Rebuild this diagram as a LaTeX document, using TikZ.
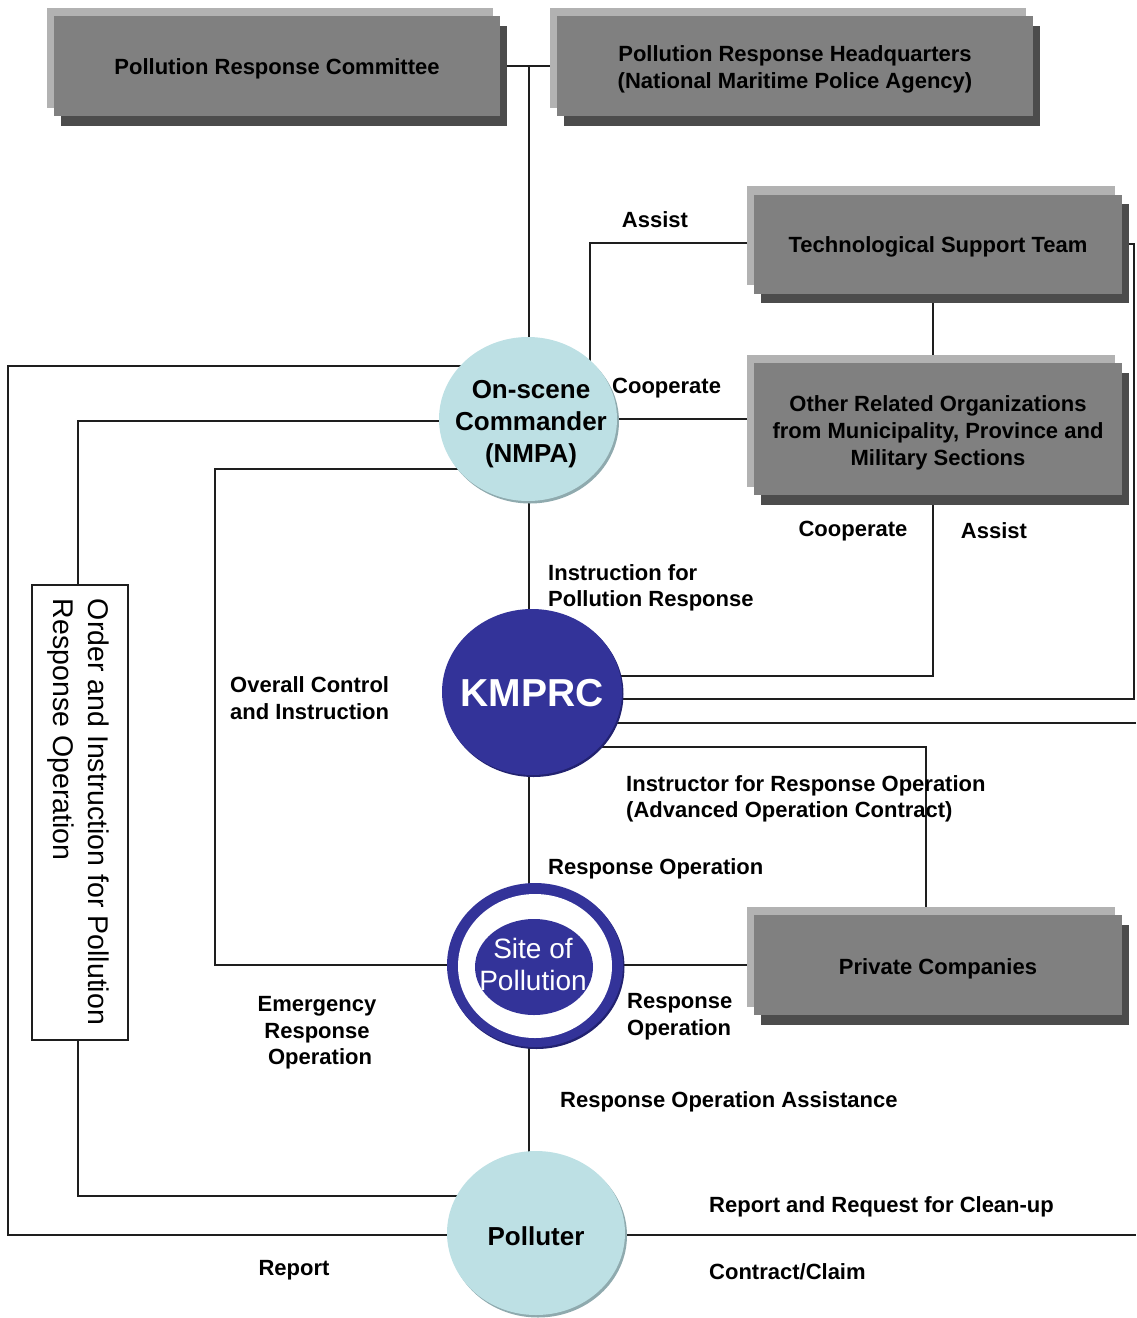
\documentclass[tikz,border=0pt]{standalone}
\usepackage{fontspec}
\setmainfont{Liberation Sans}
\usetikzlibrary{shapes.geometric,shadows}

\definecolor{panellight}{HTML}{B2B2B2}
\definecolor{panelmid}{HTML}{808080}
\definecolor{paneldark}{HTML}{4C4C4C}
\definecolor{paleteal}{HTML}{BDE0E4}
\definecolor{tealshade}{HTML}{8FAAAE}
\definecolor{navy}{HTML}{333399}
\definecolor{navyshade}{HTML}{222270}
\definecolor{wire}{HTML}{1E1E1E}

\pgfdeclarelayer{wires}
\pgfsetlayers{wires,main}

\newcommand\lblfont{\fontsize{22}{26.5}\selectfont\bfseries}
\newcommand\panelfont{\fontsize{22}{27}\selectfont\bfseries}

\begin{document}
\begin{tikzpicture}[x=1pt,y=-1pt,
  panel/.style={fill=panelmid, inner sep=0pt,
    general shadow={fill=panellight, shadow xshift=-7pt, shadow yshift=8.5pt},
    general shadow={fill=paneldark, shadow xshift=7pt, shadow yshift=-9.5pt}},
  paneltext/.style={inner sep=0pt, align=center, font=\panelfont},
  orb/.style={ellipse, inner sep=0pt},
  paleorb/.style={orb, fill=paleteal, minimum width=178pt, minimum height=164pt,
    general shadow={fill=tealshade, shadow xshift=2pt, shadow yshift=-2.5pt}},
  navyorb/.style={orb, fill=navy},
  orbtext/.style={inner sep=0pt, align=center},
  wirestyle/.style={draw=wire, line width=1.3pt},
  lbl/.style={font=\lblfont, inner sep=0pt, align=left, anchor=west},
]
\useasboundingbox (0,0) rectangle (1136,1318);

% --- grey panels ---
\node[panel, minimum width=446pt, minimum height=100pt] (prc) at (277,66) {};
\node[paneltext] (prctxt) at (277,69) {Pollution Response Committee};
\node[panel, minimum width=476pt, minimum height=100pt] (prh) at (795,66) {};
\node[paneltext] (prhtxt) at (795,69) {Pollution Response Headquarters\\(National Maritime Police Agency)};
\node[panel, minimum width=368pt, minimum height=99pt] (tst) at (938,244) {};
\node[paneltext] (tsttxt) at (938,247) {Technological Support Team};
\node[panel, minimum width=368pt, minimum height=132pt] (oro) at (938,429) {};
\node[paneltext] (orotxt) at (938,432.5) {Other Related Organizations\\from Municipality, Province and\\Military Sections};
\node[panel, minimum width=368pt, minimum height=100pt] (pc) at (938,965) {};
\node[paneltext] (pctxt) at (938,969) {Private Companies};

% --- round nodes ---
\node[paleorb] (cmd) at (528,419) {};
\node[orbtext, font=\fontsize{26}{32}\selectfont\bfseries] (cmdtxt) at (531,424) {On-scene\\Commander\\(NMPA)};

\node[navyorb, minimum width=180pt, minimum height=166pt,
  general shadow={fill=navyshade, shadow xshift=1.5pt, shadow yshift=-2pt}] (kmp) at (532,692) {};
\node[orbtext, text=white, font=\fontsize{39}{44}\selectfont\bfseries] (kmptxt) at (532,693) {KMPRC};

\node[navyorb, minimum width=176pt, minimum height=164pt,
  general shadow={fill=navyshade, shadow xshift=1.5pt, shadow yshift=-2pt}] (site) at (535,965) {};
\node[orb, fill=white, minimum width=154pt, minimum height=144pt] (sitering) at (535,966) {};
\node[navyorb, minimum width=118pt, minimum height=96pt] (sitecore) at (534,967) {};
\node[orbtext, text=white, font=\fontsize{28}{32}\selectfont] (sitetxt) at (533,964) {Site of\\Pollution};

\node[paleorb] (pol) at (536,1233) {};
\node[orbtext, font=\fontsize{26}{32}\selectfont\bfseries] (poltxt) at (536,1236) {Polluter};

% --- vertical order box ---
\node[draw=wire, line width=1.2pt, fill=white, minimum width=96pt, minimum height=455pt, inner sep=0pt] (ordbox) at (80,812.5) {};
\node[rotate=-90, align=left, inner sep=0pt, font=\fontsize{28.5}{35}\selectfont] (ordtxt) at (78,812) {Order and Instruction for Pollution\\Response Operation};

% --- labels ---
\node[lbl, anchor=center] (lassist) at (655,220) {Assist};
\node[lbl] (lcoop) at (612,388) {Cooperate};
\node[lbl, anchor=center] (lcoop2) at (853,531) {Cooperate};
\node[lbl, anchor=center] (lassist2) at (994,531) {Assist};
\node[lbl] (linstr) at (548,588) {Instruction for\\Pollution Response};
\node[lbl] (loverall) at (230,698) {Overall Control\\and Instruction};
\node[lbl] (lcontract) at (626,799) {Instructor for Response Operation\\(Advanced Operation Contract)};
\node[lbl] (lresp) at (548,869) {Response Operation};
\node[lbl] (lresp2) at (627,1016.5) {Response\\Operation};
\node[lbl, anchor=center, align=center] (lemerg) at (317,1033) {Emergency\\Response\\\ Operation};
\node[lbl] (lassistance) at (560,1102) {Response Operation Assistance};
\node[lbl] (lrequest) at (709,1207) {Report and Request for Clean-up};
\node[lbl] (lclaim) at (709,1272) {Contract/Claim};
\node[lbl, anchor=center] (lreport) at (294,1270) {Report};

% --- corner points of the connectors ---
\coordinate (stemx) at (529,0);
\coordinate (assistbend) at (590,243);
\coordinate (midx) at (933,0);
\coordinate (oroturn) at (933,676);
\coordinate (edgeturn) at (1134,699);
\coordinate (edgeout) at (1136,723);
\coordinate (pcturn) at (926,747);
\coordinate (ctrlturn) at (215,469);
\coordinate (ordtop) at (78,421);
\coordinate (ordbot) at (78,1196);
\coordinate (outtop) at (8,366);
\coordinate (outbot) at (8,1235);
\coordinate (polout) at (1136,1235);

\begin{pgfonlayer}{wires}
  % headquarters row and the stem down to the commander
  \draw[wirestyle] (prc.center) -- (prh.center);
  \draw[wirestyle] (stemx |- prc.center) -- (stemx |- cmd.center);
  % commander to support team and related organizations
  \draw[wirestyle] (assistbend |- cmd.center) -- (assistbend) -- (tst.center |- assistbend);
  \draw[wirestyle] (cmd.center) -- (oro.center |- cmd.center);
  \draw[wirestyle] (midx |- tst.center) -- (midx |- oro.center);
  % links into KMPRC from the right
  \draw[wirestyle] (oroturn |- oro.center) -- (oroturn) -- (kmp.center |- oroturn);
  \draw[wirestyle] (tst.center) -| (edgeturn) -- (kmp.center |- edgeturn);
  \draw[wirestyle] (kmp.center |- edgeout) -- (edgeout);
  \draw[wirestyle] (kmp.center |- pcturn) -- (pcturn) -- (pcturn |- pc.center);
  % main vertical spine
  \draw[wirestyle] (stemx |- cmd.center) -- (stemx |- kmp.center);
  \draw[wirestyle] (stemx |- kmp.center) -- (stemx |- site.center);
  \draw[wirestyle] (stemx |- site.center) -- (stemx |- pol.center);
  % site of pollution to private companies
  \draw[wirestyle] (site.center) -- (pc.center |- site.center);
  % left-hand loops
  \draw[wirestyle] (cmd.center |- ctrlturn) -- (ctrlturn) |- (site.center);
  \draw[wirestyle] (cmd.center |- ordtop) -- (ordtop) -- (ordtop |- ordbox.north);
  \draw[wirestyle] (ordbot |- ordbox.south) -- (ordbot) -- (pol.center |- ordbot);
  \draw[wirestyle] (cmd.center |- outtop) -- (outtop) -- (outbot) -- (pol.center |- outbot);
  % polluter to the right edge
  \draw[wirestyle] (pol.center |- polout) -- (polout);
\end{pgfonlayer}
\end{tikzpicture}
\end{document}
